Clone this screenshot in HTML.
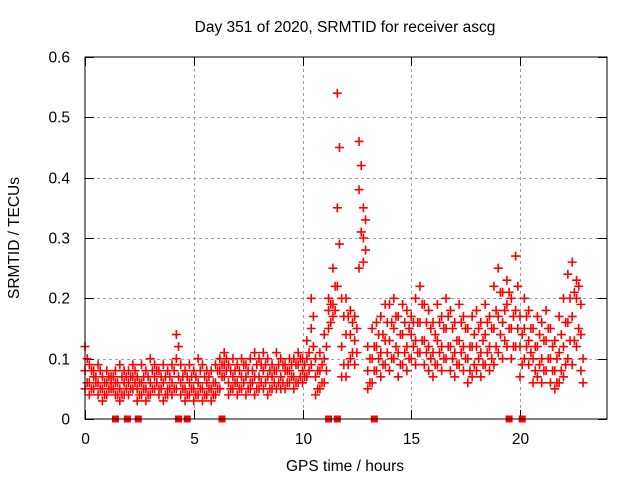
<!DOCTYPE html>
<html><head><meta charset="utf-8"><style>
html,body{margin:0;padding:0;background:#fff;}
svg{display:block;font-family:"Liberation Sans",sans-serif;}
</style></head><body>
<svg id="chart" width="640" height="480">
<rect width="640" height="480" fill="#fff"/>
<text x="345" y="32" font-size="15.5" text-anchor="middle">Day 351 of 2020, SRMTID for receiver ascg</text>
<text x="0" y="0" font-size="15.5" text-anchor="middle" transform="translate(19,238) rotate(-90)">SRMTID / TECUs</text>
<text x="345" y="471" font-size="15.5" text-anchor="middle">GPS time / hours</text>
<g id="grid"></g><g id="ticks"></g><g id="marks"></g>
<rect x="85" y="57" width="522" height="362" fill="none" stroke="#000" stroke-width="1"/>
</svg>
<script>
const times=[0,0.2,0.4,0.6,0.8,1.0,1.2,1.4,1.6,1.8,2.0,2.2,2.4,2.6,2.8,3.0,3.2,3.4,3.6,3.8,4.0,4.2,4.4,4.6,4.8,5.0,5.2,5.4,5.6,5.8,6.0,6.2,6.4,6.6,6.8,7.0,7.2,7.4,7.6,7.8,8.0,8.2,8.4,8.6,8.8,9.0,9.2,9.4,9.6,9.8,10.0,10.2,10.4,10.6,10.8,11.0,11.2,11.4,11.6,11.8,12.0,12.2,12.4,12.6,12.8,13.0,13.2,13.4,13.6,13.8,14.0,14.2,14.4,14.6,14.8,15.0,15.2,15.4,15.6,15.8,16.0,16.2,16.4,16.6,16.8,17.0,17.2,17.4,17.6,17.8,18.0,18.2,18.4,18.6,18.8,19.0,19.2,19.4,19.6,19.8,20.0,20.2,20.4,20.6,20.8,21.0,21.2,21.4,21.6,21.8,22.0,22.2,22.4,22.6,22.8];
const lo=[0.05,0.04,0.05,0.04,0.03,0.04,0.05,0.04,0.03,0.04, 0.04,0.05,0.03,0.04,0.03,0.04,0.05,0.04,0.03,0.04, 0.04,0.05,0.04,0.03,0.04,0.03,0.04,0.03,0.04,0.03, 0.04,0.05,0.07,0.04,0.05,0.04,0.05,0.04,0.05,0.04, 0.05,0.05,0.04,0.05,0.05,0.05,0.05,0.06,0.05,0.06, 0.06,0.07,0.09,0.04,0.05,0.06,0.15,0.17,0.22,0.07, 0.07,0.10,0.09,0.25,0.26,0.05,0.06,0.08,0.07,0.09, 0.08,0.10,0.07,0.09,0.08,0.10,0.09,0.11,0.09,0.08, 0.07,0.09,0.08,0.10,0.08,0.07,0.09,0.08,0.06,0.07, 0.08,0.07,0.09,0.08,0.09,0.11,0.10,0.12,0.10,0.12, 0.07,0.10,0.09,0.06,0.07,0.06,0.08,0.06,0.05,0.06, 0.07,0.10,0.09,0.12,0.08];
const mid=[0.08,0.06,0.07,0.06,0.05,0.06,0.06,0.06,0.05,0.06, 0.06,0.07,0.05,0.06,0.05,0.06,0.07,0.05,0.06,0.05, 0.06,0.10,0.06,0.05,0.06,0.05,0.06,0.05,0.06,0.05, 0.06,0.08,0.09,0.06,0.07,0.06,0.07,0.07,0.06,0.07, 0.07,0.08,0.07,0.07,0.08,0.07,0.08,0.08,0.07,0.09, 0.08,0.10,0.15,0.07,0.08,0.10,0.18,0.19,0.35,0.12, 0.14,0.14,0.13,0.38,0.30,0.08,0.10,0.12,0.11,0.13, 0.13,0.15,0.11,0.14,0.12,0.14,0.13,0.16,0.13,0.12, 0.11,0.13,0.12,0.15,0.12,0.11,0.13,0.12,0.10,0.12, 0.12,0.11,0.14,0.12,0.15,0.17,0.16,0.19,0.15,0.18, 0.12,0.15,0.13,0.10,0.12,0.10,0.13,0.10,0.08,0.11, 0.12,0.16,0.17,0.20,0.14];
const hi=[0.12,0.09,0.08,0.09,0.07,0.08,0.07,0.08,0.09,0.08, 0.08,0.09,0.07,0.09,0.08,0.10,0.09,0.08,0.09,0.08, 0.09,0.14,0.09,0.08,0.09,0.08,0.10,0.09,0.08,0.08, 0.09,0.10,0.11,0.09,0.10,0.09,0.10,0.09,0.10,0.11, 0.10,0.11,0.10,0.09,0.11,0.10,0.09,0.10,0.10,0.11, 0.10,0.13,0.20,0.10,0.11,0.14,0.20,0.25,0.54,0.20, 0.20,0.18,0.17,0.46,0.35,0.12,0.15,0.16,0.17,0.19, 0.19,0.20,0.17,0.19,0.18,0.17,0.20,0.22,0.19,0.18, 0.16,0.19,0.17,0.20,0.18,0.16,0.19,0.17,0.15,0.17, 0.18,0.16,0.19,0.17,0.22,0.25,0.21,0.23,0.20,0.27, 0.17,0.20,0.18,0.15,0.17,0.16,0.18,0.15,0.13,0.17, 0.20,0.24,0.26,0.23,0.19];
const a2=[0.06,0.05,0.06,0.05,0.04,0.05,0.05,0.04,0.04,0.05, 0.05,0.06,0.04,0.05,0.04,0.05,0.06,0.05,0.04,0.05, 0.05,0.07,0.05,0.04,0.05,0.04,0.05,0.04,0.05,0.04, 0.05,0.07,0.08,0.05,0.06,0.05,0.06,0.05,0.06,0.05, 0.06,0.06,0.05,0.06,0.06,0.06,0.06,0.07,0.06,0.07, 0.07,0.08,0.12,0.05,0.06,0.08,0.16,0.18,0.45,0.09, 0.09,0.11,0.11,0.31,0.28,0.06,0.08,0.10,0.09,0.11, 0.10,0.12,0.09,0.11,0.10,0.12,0.11,0.13,0.11,0.10, 0.09,0.11,0.10,0.12,0.10,0.09,0.11,0.10,0.08,0.09, 0.10,0.09,0.11,0.10,0.12,0.14,0.13,0.15,0.12,0.15, 0.09,0.12,0.11,0.08,0.09,0.08,0.10,0.08,0.06,0.08, 0.09,0.13,0.13,0.15,0.06];
const b2=[0.10,0.08,0.07,0.08,0.06,0.07,0.07,0.06,0.07,0.07, 0.07,0.08,0.06,0.07,0.07,0.08,0.08,0.07,0.07,0.07, 0.08,0.12,0.07,0.07,0.07,0.07,0.08,0.07,0.07,0.06, 0.08,0.09,0.10,0.08,0.08,0.08,0.09,0.08,0.08,0.09, 0.09,0.09,0.08,0.08,0.09,0.09,0.08,0.09,0.09,0.10, 0.09,0.11,0.17,0.08,0.09,0.12,0.19,0.22,0.29,0.17, 0.17,0.16,0.15,0.42,0.33,0.10,0.12,0.14,0.14,0.16, 0.16,0.17,0.14,0.16,0.15,0.16,0.16,0.19,0.16,0.15, 0.14,0.16,0.15,0.17,0.15,0.13,0.16,0.15,0.12,0.14, 0.15,0.13,0.16,0.15,0.18,0.21,0.18,0.21,0.17,0.22, 0.14,0.17,0.15,0.12,0.14,0.13,0.15,0.12,0.10,0.14, 0.16,0.20,0.21,0.22,0.10];
const zeroTimes=[1.4,1.95,2.45,4.3,4.7,6.3,11.2,11.6,13.3,19.5,20.1];
const xTicks=[0,5,10,15,20];
const yTicks=[0,0.1,0.2,0.3,0.4,0.5,0.6];
const yTickLabels=["0","0.1","0.2","0.3","0.4","0.5","0.6"];

const X0=85,X1=607,Y0=419,Y1=57,XMAX=24,YMAX=0.6;
const sx=t=>X0+(X1-X0)*t/XMAX;
const sy=v=>Y0-(Y0-Y1)*v/YMAX;
const NS="http://www.w3.org/2000/svg";
function mk(tag,attrs,parent){const e=document.createElementNS(NS,tag);for(const k in attrs)e.setAttribute(k,attrs[k]);parent.appendChild(e);return e;}
const grid=document.getElementById('grid'),ticks=document.getElementById('ticks'),marks=document.getElementById('marks');
yTicks.forEach((v,i)=>{
  const y=Math.round(sy(v))+0.5;
  if(v>0&&v<YMAX){const g=mk('line',{x1:X0,x2:X1,y1:y,y2:y,stroke:'#a0a0a0','stroke-dasharray':'3,3'},grid);
  
  }
  mk('line',{x1:X0,x2:X0+9,y1:y,y2:y,stroke:'#000'},ticks);
  mk('line',{x1:X1-9,x2:X1,y1:y,y2:y,stroke:'#000'},ticks);
  const t=mk('text',{x:X0-15,y:y+5,'font-size':15.5,'text-anchor':'end'},ticks);
  t.textContent=yTickLabels[i];
  
  
});
xTicks.forEach(v=>{
  const x=Math.round(sx(v))+0.5;
  if(v>0){const g=mk('line',{x1:x,x2:x,y1:Y1,y2:Y0,stroke:'#a0a0a0','stroke-dasharray':'3,3'},grid);
  
  }
  mk('line',{x1:x,x2:x,y1:Y0,y2:Y0-9,stroke:'#000'},ticks);
  mk('line',{x1:x,x2:x,y1:Y1,y2:Y1+9,stroke:'#000'},ticks);
  const t=mk('text',{x:x,y:Y0+25,'font-size':15.5,'text-anchor':'middle'},ticks);
  t.textContent=String(v);
  
  
});
let d='';
function plus(x,y){d+=`M${x-4.5},${y}h9M${x},${y-4.5}v9`;}
times.forEach((t,i)=>{
  plus(sx(t),sy(lo[i]));plus(sx(t),sy(mid[i]));plus(sx(t),sy(hi[i]));
  plus(sx(t+0.1),sy(a2[i]));plus(sx(t+0.1),sy(b2[i]));
});
const p=mk('path',{d:d,stroke:'#f00','stroke-width':1.6,fill:'none'},marks);


zeroTimes.forEach(t=>{
  const r=mk('rect',{x:sx(t)-3.5,y:Y0-3.5,width:7,height:7,fill:'#f00'},marks);
  
  
});
</script>
</body></html>
